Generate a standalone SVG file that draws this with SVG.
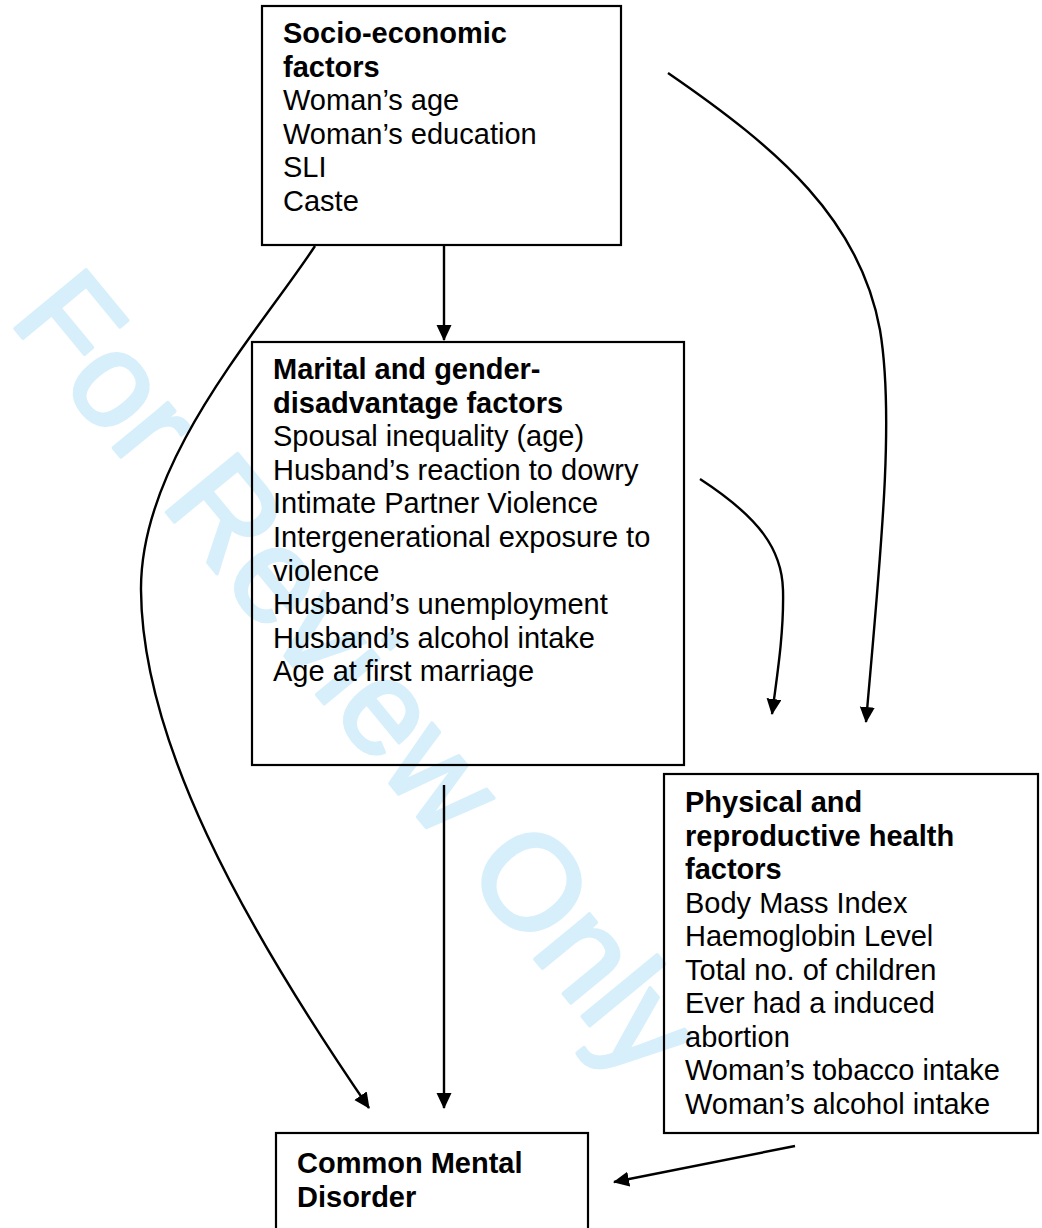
<svg xmlns="http://www.w3.org/2000/svg" width="1042" height="1228" viewBox="0 0 1042 1228">
  <style>
    .box { fill: none; stroke: #000; stroke-width: 2.2; }
    .t { font-family: "Liberation Sans", Arial, sans-serif; font-size: 29px; fill: #000; }
    .b { font-weight: bold; }
    .wm { font-family: "Liberation Sans", Arial, sans-serif; font-size: 134px; fill: #d6effb; stroke: #d6effb; stroke-width: 3.5; stroke-linejoin: round; }
    .c { fill: none; stroke: #000; stroke-width: 2.4; marker-end: url(#ah); }
  </style>
  <defs>
    <marker id="ah" markerUnits="userSpaceOnUse" markerWidth="17" markerHeight="17" refX="15" refY="7.5" orient="auto" viewBox="0 0 17 17">
      <path d="M0,0 L16,7.5 L0,15 z" fill="#000"/>
    </marker>
  </defs>
  <rect x="0" y="0" width="1042" height="1228" fill="#fff"/>
  <g id="watermark">
    <text class="wm" transform="translate(8,320) rotate(50.5)">For Review Only</text>
  </g>

  <g id="connectors">
    <path class="c" d="M444,246 L444,340"/>
    <path class="c" d="M315,246 C260,330 140,460 141,590 C142,740 240,920 369,1108"/>
    <path class="c" d="M444,785 L444,1108"/>
    <path class="c" d="M668,73 C780,150 860,220 880,330 C895,420 880,560 866,722"/>
    <path class="c" d="M700,479 C760,518 782,550 783,590 C784,630 778,670 772,714"/>
    <path class="c" d="M795,1146 L614,1182"/>
  </g>

  <g id="socio">
    <rect class="box" x="262" y="6" width="359" height="239"/>
    <text class="t b" x="283" y="43">Socio-economic</text>
    <text class="t b" x="283" y="76.5">factors</text>
    <text class="t" x="283" y="110">Woman’s age</text>
    <text class="t" x="283" y="143.5">Woman’s education</text>
    <text class="t" x="283" y="177">SLI</text>
    <text class="t" x="283" y="210.5">Caste</text>
  </g>

  <g id="marital">
    <rect class="box" x="252" y="342" width="432" height="423"/>
    <text class="t b" x="273" y="379">Marital and gender-</text>
    <text class="t b" x="273" y="412.6">disadvantage factors</text>
    <text class="t" x="273" y="446.2">Spousal inequality (age)</text>
    <text class="t" x="273" y="479.8">Husband’s reaction to dowry</text>
    <text class="t" x="273" y="513.4">Intimate Partner Violence</text>
    <text class="t" x="273" y="547">Intergenerational exposure to</text>
    <text class="t" x="273" y="580.6">violence</text>
    <text class="t" x="273" y="614.2">Husband’s unemployment</text>
    <text class="t" x="273" y="647.8">Husband’s alcohol intake</text>
    <text class="t" x="273" y="681.4">Age at first marriage</text>
  </g>

  <g id="physical">
    <rect class="box" x="664" y="774" width="374" height="359"/>
    <text class="t b" x="685" y="812">Physical and</text>
    <text class="t b" x="685" y="845.5">reproductive health</text>
    <text class="t b" x="685" y="879">factors</text>
    <text class="t" x="685" y="912.5">Body Mass Index</text>
    <text class="t" x="685" y="946">Haemoglobin Level</text>
    <text class="t" x="685" y="979.5">Total no. of children</text>
    <text class="t" x="685" y="1013">Ever had a induced</text>
    <text class="t" x="685" y="1046.5">abortion</text>
    <text class="t" x="685" y="1080">Woman’s tobacco intake</text>
    <text class="t" x="685" y="1113.5">Woman’s alcohol intake</text>
  </g>

  <g id="cmd">
    <rect class="box" x="276" y="1133" width="312" height="110"/>
    <text class="t b" x="297" y="1173">Common Mental</text>
    <text class="t b" x="297" y="1207">Disorder</text>
  </g>
</svg>
